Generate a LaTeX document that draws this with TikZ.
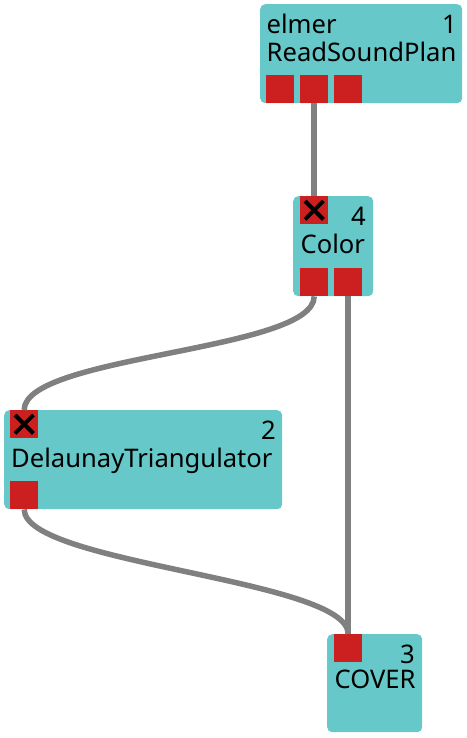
\documentclass[tikz,border=0pt]{standalone}
\usepackage{fontspec}
\setmainfont{Noto Sans}
\usetikzlibrary{positioning}
\definecolor{modfill}{RGB}{102,200,200}
\definecolor{portred}{RGB}{204,31,31}
\definecolor{wire}{RGB}{128,128,128}

\begin{document}
\begin{tikzpicture}[x=1pt,y=-1pt,
  module/.style={fill=modfill,rounded corners=5pt,inner sep=0pt,anchor=north west},
  port/.style={fill=portred,minimum size=28pt,inner sep=0pt,anchor=north west},
  lbl/.style={inner sep=0pt,font=\fontsize{25.6}{28}\selectfont},
  conn/.style={draw=wire,line width=5.5pt},
  cross/.style={draw=black,line width=4pt}]
\useasboundingbox (0,0) rectangle (466,738);
% modules
\node[module,minimum width=202pt,minimum height=99pt] (m1) at (260,4) {};
\node[module,minimum width=80pt,minimum height=100pt] (m4) at (293,196) {};
\node[module,minimum width=278pt,minimum height=99pt] (m2) at (4,410) {};
\node[module,minimum width=95pt,minimum height=98pt] (m3) at (327,634) {};
% ports
\node[port] (m1o1) at (266,75) {};
\node[port] (m1o2) at (300,75) {};
\node[port] (m1o3) at (334,75) {};
\node[port] (m4i1) at (300,196) {};
\node[port] (m4o1) at (300,268) {};
\node[port] (m4o2) at (334,268) {};
\node[port] (m2i1) at (10,410) {};
\node[port] (m2o1) at (10,481) {};
\node[port] (m3i1) at (334,634) {};
% labels
\node[lbl,anchor=base west] (m1host) at (266.5,34) {elmer};
\node[lbl,anchor=base east] (m1id) at (457,34) {1};
\node[lbl,anchor=base west] (m1name) at (266.5,62) {ReadSoundPlan};
\node[lbl,anchor=base east] (m4id) at (366,225) {4};
\node[lbl,anchor=base west] (m4name) at (300.5,253) {Color};
\node[lbl,anchor=base east] (m2id) at (276,439) {2};
\node[lbl,anchor=base west] (m2name) at (11,467) {DelaunayTriangulator};
\node[lbl,anchor=base east] (m3id) at (415,663) {3};
\node[lbl,anchor=base west] (m3name) at (334.5,688) {COVER};
% crosses on required inputs
\foreach \p in {m4i1,m2i1}{
  \draw[cross] ([shift={(5,5)}]\p.north west) -- ([shift={(-5,-5)}]\p.south east);
  \draw[cross] ([shift={(5,-5)}]\p.south west) -- ([shift={(-5,5)}]\p.north east);
}
% connections
\draw[conn] (m1o2.south) -- (m4i1.north);
\draw[conn] (m4o2.south) -- (m3i1.north);
\draw[conn] (m4o1.south) .. controls +(0,55) and +(0,-55) .. (m2i1.north);
\draw[conn] (m2o1.south) .. controls +(0,55) and +(0,-55) .. (m3i1.north);
\end{tikzpicture}
\end{document}
